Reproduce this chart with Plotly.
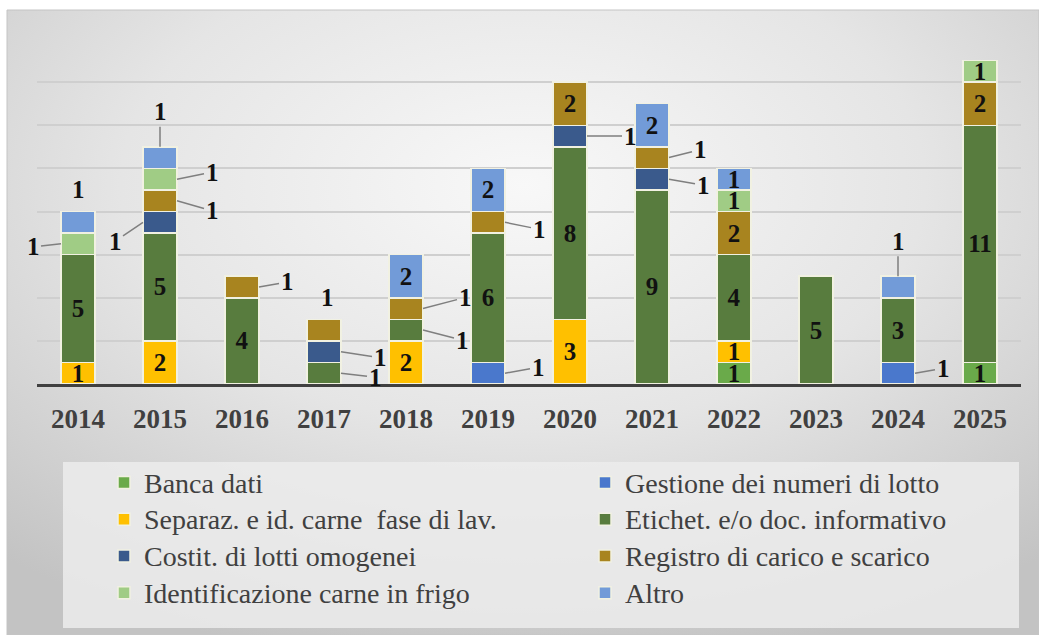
import base64
import plotly.graph_objects as go

# ---------------- data ----------------
years = ['2014', '2015', '2016', '2017', '2018', '2019', '2020', '2021', '2022', '2023', '2024', '2025']

series_names = [
    'Banca dati',
    'Gestione dei numeri di lotto',
    'Separaz. e id. carne\u00a0 fase di lav.',
    'Etichet. e/o doc. informativo',
    'Costit. di lotti omogenei',
    'Registro di carico e scarico',
    'Identificazione carne in frigo',
    'Altro',
]

banca_dati      = [0, 0, 0, 0, 0, 0, 0, 0, 1, 0, 0, 1]
gestione_lotto  = [0, 0, 0, 0, 0, 1, 0, 0, 0, 0, 1, 0]
separaz_carne   = [1, 2, 0, 0, 2, 0, 3, 0, 1, 0, 0, 0]
etichet_doc     = [5, 5, 4, 1, 1, 6, 8, 9, 4, 5, 3, 11]
costit_lotti    = [0, 1, 0, 1, 0, 0, 1, 1, 0, 0, 0, 0]
registro_carico = [0, 1, 1, 1, 1, 1, 2, 1, 2, 0, 0, 2]
ident_frigo     = [1, 1, 0, 0, 0, 0, 0, 0, 1, 0, 0, 1]
altro           = [1, 1, 0, 0, 2, 2, 0, 2, 1, 0, 1, 0]

series_values = [banca_dati, gestione_lotto, separaz_carne, etichet_doc,
                 costit_lotti, registro_carico, ident_frigo, altro]

# ---------------- styles ----------------
colors = ['#6aaa4a', '#4a78cc', '#ffc000', '#587c3e',
          '#3a5a8c', '#a8841f', '#a0cc85', '#729bd8']

# labels drawn outside the bars: (year, series index, anchor side, dx px, dy px, leader line)
outside_labels = [
    ('2014', 6, 'l', -28, 3, True),
    ('2014', 7, 't', 0, -22, False),
    ('2015', 4, 'l', -28, 19, True),
    ('2015', 5, 'r', 35, 10, True),
    ('2015', 6, 'r', 35, -7, True),
    ('2015', 7, 't', 0, -35, True),
    ('2016', 5, 'r', 28, -5, True),
    ('2017', 3, 'r', 34, 4, True),
    ('2017', 4, 'r', 39, 6, True),
    ('2017', 5, 't', 3, -22, False),
    ('2018', 3, 'r', 39, 10, True),
    ('2018', 5, 'r', 42, -11, True),
    ('2019', 1, 'r', 33, -6, True),
    ('2019', 5, 'r', 34, 7, True),
    ('2020', 4, 'r', 43, 0, True),
    ('2021', 5, 'r', 31, -8, True),
    ('2021', 4, 'r', 34, 6, True),
    ('2024', 1, 'r', 28, -5, True),
    ('2024', 7, 't', 0, -35, True),
]

SERIF = 'Liberation Serif'
W, H = 1039, 635
ML, MR, MT, MB = 37, 18, 39, 251
PW, PH = W - ML - MR, H - MT - MB
slot_px = PW / len(years)
bar_px = 34
bar_half = bar_px / 2


def px_to_paper_x(px):
    return (px - ML) / PW


def px_to_paper_y(py):
    return (H - MB - py) / PH


outside_set = {(y, s) for y, s, *_ in outside_labels}

fig = go.Figure()
for si, (name, vals, col) in enumerate(zip(series_names, series_values, colors)):
    yv = [v if v else None for v in vals]
    txt = ['' if (not v or (years[i], si) in outside_set) else str(v) for i, v in enumerate(vals)]
    fig.add_trace(go.Bar(
        x=years, y=yv, name='<span style="font-size:28px">' + name + '</span>', text=txt,
        textposition='inside', insidetextanchor='middle', constraintext='none',
        textangle=0,
        textfont=dict(family=SERIF, size=25, color='#111111', weight='bold'),
        marker=dict(color=col, line=dict(color='#f1f1e2', width=1.5)),
        hoverinfo='skip',
    ))

# cumulative positions for outside labels
annotations = []
for yr, si, side, dx, dy, leader in outside_labels:
    i = years.index(yr)
    base = sum(series_values[k][i] for k in range(si))
    val = series_values[si][i]
    if side == 't':
        ypos = base + val
        xshift = 0
    else:
        ypos = base + val / 2
        xshift = bar_half if side == 'r' else -bar_half
    annotations.append(dict(
        x=i, y=ypos, xref='x', yref='y', text=str(val),
        showarrow=True, arrowhead=0, arrowwidth=1.5,
        arrowcolor='#7f7f7f' if leader else 'rgba(0,0,0,0)',
        ax=dx, ay=dy, xshift=xshift, standoff=0, startstandoff=0,
        font=dict(family=SERIF, size=25, color='#111111', weight='bold'),
    ))

# background gradient panel
svg = (
    '<svg xmlns="http://www.w3.org/2000/svg" width="1032" height="625" '
    'viewBox="0 0 1032 625" preserveAspectRatio="none">'
    '<defs><radialGradient id="g" cx="0.5" cy="0.28" r="0.78">'
    '<stop offset="0" stop-color="#f8f8f8"/>'
    '<stop offset="0.5" stop-color="#e5e5e5"/>'
    '<stop offset="1" stop-color="#c3c3c3"/>'
    '</radialGradient></defs>'
    '<rect width="1032" height="625" fill="url(#g)"/></svg>'
)
svg_src = 'data:image/svg+xml;base64,' + base64.b64encode(svg.encode()).decode()

frame_x0, frame_y0, frame_x1, frame_y1 = 7, 10, 1039, 635

fig.update_layout(
    width=W, height=H,
    margin=dict(l=ML, r=MR, t=MT, b=MB, autoexpand=False),
    paper_bgcolor='white', plot_bgcolor='rgba(0,0,0,0)',
    barmode='stack', bargap=1 - bar_px / slot_px,
    showlegend=True,
    legend=dict(
        orientation='h', traceorder='normal',
        x=px_to_paper_x(104), xanchor='left',
        y=px_to_paper_y(459), yanchor='top',
        bgcolor='rgba(0,0,0,0)', borderwidth=0,
        entrywidth=436, entrywidthmode='pixels',
        font=dict(family=SERIF, size=26, color='#404040'),
    ),
    images=[dict(
        source=svg_src, xref='paper', yref='paper',
        x=px_to_paper_x(frame_x0), y=px_to_paper_y(frame_y0),
        sizex=(frame_x1 - frame_x0) / PW, sizey=(frame_y1 - frame_y0) / PH,
        xanchor='left', yanchor='top', sizing='stretch', layer='below',
    )],
    shapes=[
        dict(type='rect', xref='paper', yref='paper', layer='below',
             x0=px_to_paper_x(frame_x0), x1=px_to_paper_x(frame_x1),
             y0=px_to_paper_y(frame_y1), y1=px_to_paper_y(frame_y0),
             line=dict(color='#c4c4c4', width=1), fillcolor='rgba(0,0,0,0)'),
        dict(type='rect', xref='paper', yref='paper', layer='below',
             x0=px_to_paper_x(63), x1=px_to_paper_x(1019),
             y0=px_to_paper_y(628), y1=px_to_paper_y(462),
             line=dict(width=0), fillcolor='rgba(236,236,236,0.85)'),
    ],
    annotations=annotations,
    xaxis=dict(
        type='category', range=[-0.5, len(years) - 0.5], autorange=False,
        showline=True, linecolor='#404040', linewidth=2.5,
        ticks='outside', ticklen=9, tickcolor='rgba(0,0,0,0)',
        tickfont=dict(family=SERIF, size=27, color='#404040', weight='bold'),
        showgrid=False, zeroline=False,
    ),
    yaxis=dict(
        range=[0, 16], autorange=False, dtick=2, showticklabels=False, ticks='',
        showgrid=True, gridcolor='#cfcfcf', gridwidth=1.5,
        zeroline=False, showline=False,
    ),
)

fig.write_html('out.html', config={'displayModeBar': False},
               post_script="document.body.style.margin='0';")
